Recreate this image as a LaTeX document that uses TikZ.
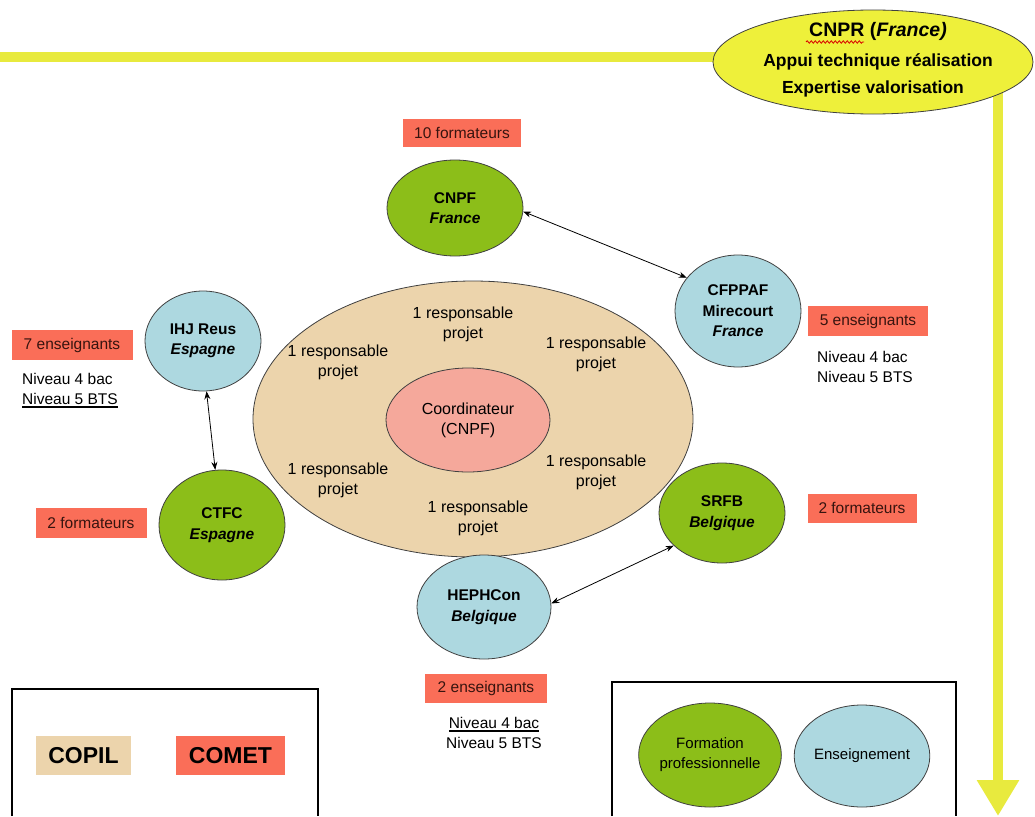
\documentclass[tikz,border=0pt]{standalone}
\usepackage{fontspec}
\setmainfont{Liberation Sans}
\usetikzlibrary{shapes.geometric,arrows.meta,backgrounds,decorations.pathmorphing}
\pgfdeclarelayer{bottom}
\pgfsetlayers{bottom,background,main}
\definecolor{ylw}{RGB}{232,234,62}
\definecolor{ylwfill}{RGB}{238,240,58}
\definecolor{grn}{RGB}{140,190,25}
\definecolor{lblue}{RGB}{173,216,224}
\definecolor{salmon}{RGB}{250,110,88}
\definecolor{beige}{RGB}{236,212,172}
\definecolor{pinkc}{RGB}{245,168,155}
\definecolor{boxtxt}{RGB}{55,20,15}
\newcommand{\thickul}[1]{\setbox0\hbox{#1}\rlap{\rule[-3.5pt]{\wd0}{1.8pt}}\box0}
\tikzset{
  ell/.style={ellipse, draw=black!75, line width=0.8pt, inner sep=0pt, align=center,
    font=\fontsize{15.5}{20.5}\selectfont\bfseries},
  greenell/.style={ell, fill=grn},
  blueell/.style={ell, fill=lblue},
  tag/.style={rectangle, fill=salmon, inner sep=0pt, text=boxtxt,
    font=\fontsize{15.5}{20}\selectfont},
  plain/.style={align=center, inner sep=0pt, font=\fontsize{16}{20}\selectfont},
  plainl/.style={align=left, inner sep=0pt, font=\fontsize{15.5}{20}\selectfont},
  link/.style={line width=0.8pt, {Stealth[length=8pt,width=6pt]}-{Stealth[length=8pt,width=6pt]}},
  legendframe/.style={line width=2.6pt, black},
}
\begin{document}
\begin{tikzpicture}[x=1pt,y=-1pt]
\useasboundingbox (0,0) rectangle (1035,816);
\begin{pgfonlayer}{bottom}
\fill[white] (0,0) rectangle (1035,816);
\end{pgfonlayer}

% CNPR
\node[ellipse, draw=black!75, line width=0.8pt, fill=ylwfill, minimum width=320pt, minimum height=104pt, inner sep=0pt]
  (cnpr) at (873,62) {};
\node[inner sep=0pt, font=\fontsize{19.5}{22}\selectfont\bfseries] (cnprt) at (878,31) {CNPR (\textit{France)}};
\node[inner sep=0pt, font=\fontsize{17.5}{22}\selectfont\bfseries] (cnpr2) at (878,62) {Appui technique réalisation};
\node[inner sep=0pt, font=\fontsize{17.5}{22}\selectfont\bfseries] (cnpr3) at (873,89) {Expertise valorisation};
\draw[red!85!black, line width=0.8pt, decorate, decoration={snake, amplitude=1.2pt, segment length=4pt}]
  (806,42) -- (864,42);

\begin{scope}[on background layer]
  \coordinate (lstart) at (0,57);
  \coordinate (aend) at (998,816);
  \draw[ylw, line width=10pt] (lstart) -- (lstart -| cnpr.center);
  \draw[ylw, line width=10pt, -{Triangle[width=40pt,length=36pt]}] (cnpr.center -| aend) -- (aend);
\end{scope}

% central ellipse
\node[ellipse, draw=black!75, line width=0.8pt, fill=beige, minimum width=440pt, minimum height=276pt] (copil) at (473,419) {};
\node[ellipse, draw=black!75, line width=0.8pt, fill=pinkc, minimum width=164pt, minimum height=104pt, plain] (coord) at (468,420) {Coordinateur\\(CNPF)};
\node[plain] (r1) at (463,324) {1 responsable\\projet};
\node[plain] (r2) at (338,362) {1 responsable\\projet};
\node[plain] (r3) at (596,354) {1 responsable\\projet};
\node[plain] (r4) at (338,480) {1 responsable\\projet};
\node[plain] (r5) at (596,472) {1 responsable\\projet};
\node[plain] (r6) at (478,518) {1 responsable\\projet};

% partners
\node[greenell, minimum width=136pt, minimum height=96pt] (cnpf) at (455,208) {CNPF\\\textit{France}};
\node[tag, minimum width=118pt, minimum height=28pt] (t1) at (462,133) {10 formateurs};

\node[blueell, minimum width=126pt, minimum height=112pt] (cfppaf) at (738,311) {CFPPAF\\Mirecourt\\\textit{France}};
\node[tag, minimum width=120pt, minimum height=30pt] (t2) at (868,321) {5 enseignants};
\node[plainl, anchor=north west] (n2) at (817,351) {Niveau 4 bac\\Niveau 5 BTS};

\node[blueell, minimum width=116pt, minimum height=100pt] (ihj) at (203,341) {IHJ Reus\\\textit{Espagne}};
\node[tag, minimum width=121pt, minimum height=30pt] (t3) at (72,345) {7 enseignants};
\node[plainl, anchor=north west] (n3) at (22,373) {Niveau 4 bac\\\thickul{Niveau 5 BTS}};

\node[greenell, minimum width=126pt, minimum height=110pt] (ctfc) at (222,525) {CTFC\\\textit{Espagne}};
\node[tag, minimum width=111pt, minimum height=30pt] (t4) at (91,523) {2 formateurs};

\node[greenell, minimum width=126pt, minimum height=100pt] (srfb) at (722,513) {SRFB\\\textit{Belgique}};
\node[tag, minimum width=109pt, minimum height=29pt] (t5) at (862,508) {2 formateurs};

\node[blueell, minimum width=134pt, minimum height=104pt] (heph) at (484,607) {HEPHCon\\\textit{Belgique}};
\node[tag, minimum width=122pt, minimum height=29pt] (t6) at (486,688) {2 enseignants};
\node[plain, anchor=north, font=\fontsize{15.5}{20}\selectfont] (n6) at (494,717) {\thickul{Niveau 4 bac}\\Niveau 5 BTS};

% links
\draw[link] (cnpf.357) -- (cfppaf.147);
\draw[link] (ihj.274) -- (ctfc.97);
\draw[link] (heph.3) -- (srfb.214);

% legends
\draw[legendframe] (12,816) -- (12,689) -- (318,689) -- (318,816);
\node[rectangle, fill=beige, inner sep=0pt, minimum width=95pt, minimum height=39pt, font=\fontsize{23}{26}\selectfont\bfseries] (lcopil) at (83.5,755.5) {COPIL};
\node[rectangle, fill=salmon, inner sep=0pt, minimum width=109pt, minimum height=39pt, font=\fontsize{23}{26}\selectfont\bfseries] (lcomet) at (230.5,755.5) {COMET};

\draw[legendframe] (612,816) -- (612,682) -- (956,682) -- (956,816);
\node[ellipse, draw=black!75, line width=0.8pt, fill=grn, minimum width=134pt, minimum height=104pt, inner sep=0pt, align=center, font=\fontsize{15}{20}\selectfont] (lform) at (710,755) {Formation\\professionnelle};
\node[ellipse, draw=black!75, line width=0.8pt, fill=lblue, minimum width=126pt, minimum height=102pt, inner sep=0pt, align=center, font=\fontsize{15}{20}\selectfont] (lens) at (862,756) {Enseignement};
\end{tikzpicture}
\end{document}
